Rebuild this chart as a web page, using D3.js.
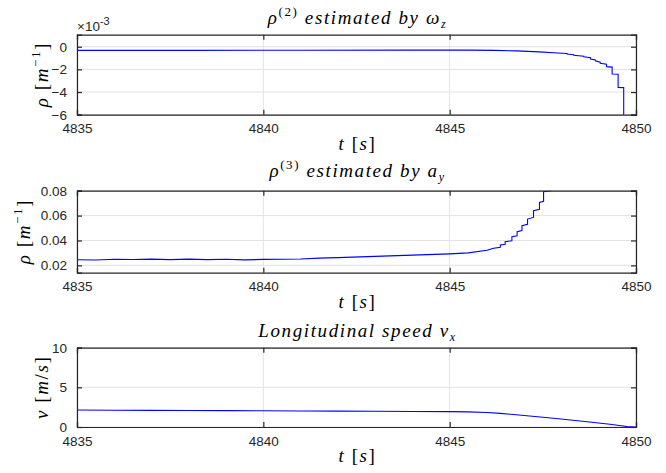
<!DOCTYPE html>
<html>
<head>
<meta charset="utf-8">
<script src="https://cdn.jsdelivr.net/npm/d3@7"></script>
<style>
  html, body { margin: 0; padding: 0; background: #fff; }
  svg { display: block; }
  .tick-label { font-family: "Liberation Sans", Arial, sans-serif; font-size: 13.5px; fill: #262626; }
  .tex { font-family: "Liberation Serif", "Times New Roman", serif; fill: #000; letter-spacing: 1.6px; }
</style>
</head>
<body>
<svg id="chart" width="666" height="473"></svg>
<script>
// ---------- DATA ----------
const xTicks = [4835, 4840, 4845, 4850];

// Panel 1: rho^(2) estimated by omega_z  (values in units of 1e-3 m^-1)
const rho2Time = [4835, 4838, 4841, 4844, 4845.5, 4846.2, 4846.8, 4847.4, 4847.9, 4848.15, 4848.15, 4848.33, 4848.33,
  4848.6, 4848.6, 4848.78, 4848.78, 4848.91, 4848.91, 4849.04, 4849.04, 4849.21, 4849.21, 4849.36, 4849.36,
  4849.52, 4849.52, 4849.67, 4849.67];
const rho2Value = [-0.32, -0.32, -0.31, -0.30, -0.30, -0.32, -0.37, -0.46, -0.55, -0.60, -0.64, -0.70, -0.76,
  -0.84, -0.88, -0.98, -1.08, -1.16, -1.24, -1.36, -1.47, -1.55, -1.76, -1.80, -2.41,
  -2.43, -3.59, -3.61, -8.0];
const rho2Ticks = [-6, -4, -2, 0];

// Panel 2: rho^(3) estimated by a_y  (m^-1)
const rho3Time = [4835, 4835.5, 4836, 4836.5, 4837, 4837.5, 4838, 4838.5, 4839, 4839.5, 4840, 4840.5, 4841, 4841.5,
  4842, 4843, 4844, 4845, 4845.5, 4846, 4846.18, 4846.36, 4846.36, 4846.49, 4846.49, 4846.67, 4846.67,
  4846.81, 4846.81, 4846.94, 4846.94, 4847.09, 4847.09, 4847.25, 4847.25, 4847.41, 4847.41, 4847.52, 4847.52,
  4847.70, 4847.70];
const rho3Value = [0.0245, 0.0243, 0.0249, 0.0247, 0.0250, 0.0246, 0.0250, 0.0246, 0.0249, 0.0244, 0.0248, 0.0249, 0.0251, 0.0258,
  0.0262, 0.0272, 0.0282, 0.0292, 0.0300, 0.0322, 0.0337, 0.0345, 0.0363, 0.0370, 0.0390, 0.0398, 0.0430,
  0.0438, 0.0470, 0.0480, 0.0518, 0.0530, 0.0572, 0.0585, 0.0639, 0.0650, 0.0706, 0.0715, 0.0791,
  0.0800, 0.0950];
const rho3Ticks = [0.02, 0.04, 0.06, 0.08];

// Panel 3: longitudinal speed v_x (m/s)
const speedTime = [4835, 4836, 4837, 4838, 4839, 4840, 4841, 4842, 4843, 4844, 4845, 4845.5, 4846, 4846.36,
  4847, 4847.79, 4848.69, 4849.3, 4849.76, 4850];
const speedValue = [2.14, 2.12, 2.10, 2.08, 2.06, 2.04, 2.02, 2.00, 1.98, 1.96, 1.94, 1.91, 1.82, 1.72,
  1.45, 1.10, 0.67, 0.35, 0.06, 0.0];
const speedTicks = [0, 5, 10];

// ---------- DRAWING ----------
const svg = d3.select("#chart");
const L = 77, R = 636;
const axisColor = "#262626", gridColor = "#e3e3e3", lineColor = "#0000ff";

function texText(g, parts, attrs) {
  const t = g.append("text").attr("class", "tex");
  Object.entries(attrs).forEach(([k, v]) => t.attr(k, v));
  parts.forEach(p => {
    const s = t.append("tspan").text(p.t);
    if (p.i) s.attr("font-style", "italic");
    if (p.dy) s.attr("dy", p.dy);
    if (p.fs) s.attr("font-size", p.fs);
    if (p.dx) s.attr("dx", p.dx);
  });
  return t;
}

function panel(cfg, idx) {
  const g = svg.append("g");
  const x = d3.scaleLinear().domain([4835, 4850]).range([L, R]);
  const y = d3.scaleLinear().domain(cfg.yDomain).range([cfg.bottom, cfg.top]);

  // grid
  g.selectAll(".gx").data(xTicks).enter().append("line")
    .attr("x1", d => x(d)).attr("x2", d => x(d)).attr("y1", cfg.top).attr("y2", cfg.bottom)
    .attr("stroke", gridColor).attr("stroke-width", 1);
  g.selectAll(".gy").data(cfg.yTicks).enter().append("line")
    .attr("x1", L).attr("x2", R).attr("y1", d => y(d)).attr("y2", d => y(d))
    .attr("stroke", gridColor).attr("stroke-width", 1);

  // clip + line
  const clipId = "clip" + idx;
  g.append("clipPath").attr("id", clipId).append("rect")
    .attr("x", L).attr("y", cfg.top).attr("width", R - L).attr("height", cfg.bottom - cfg.top);
  const pts = cfg.t.map((tt, i) => [tt, cfg.v[i]]);
  g.append("path").datum(pts)
    .attr("clip-path", `url(#${clipId})`)
    .attr("fill", "none").attr("stroke", lineColor).attr("stroke-width", 1.1)
    .attr("d", d3.line().x(d => x(d[0])).y(d => y(d[1])));

  // axes (inward ticks on all sides, box)
  const tl = 5;
  const bottomAx = d3.axisBottom(x).tickValues(xTicks).tickSize(-tl).tickFormat(d3.format("d")).tickPadding(tl + 4);
  const topAx = d3.axisTop(x).tickValues(xTicks).tickSize(-tl).tickFormat("");
  const leftAx = d3.axisLeft(y).tickValues(cfg.yTicks).tickSize(-tl).tickFormat(cfg.fmt).tickPadding(tl + 5);
  const rightAx = d3.axisRight(y).tickValues(cfg.yTicks).tickSize(-tl).tickFormat("");

  const axes = [
    [bottomAx, `translate(0,${cfg.bottom})`],
    [topAx, `translate(0,${cfg.top})`],
    [leftAx, `translate(${L},0)`],
    [rightAx, `translate(${R},0)`]
  ];
  axes.forEach(([ax, tr]) => {
    const a = g.append("g").attr("transform", tr).call(ax);
    a.select(".domain").attr("stroke", axisColor).attr("stroke-width", 1.2);
    a.selectAll(".tick line").attr("stroke", axisColor).attr("stroke-width", 1.2);
    a.selectAll(".tick text").attr("class", "tick-label").attr("font-family", null).attr("font-size", null).attr("fill", null);
  });

  // title
  texText(g, cfg.title, { x: (L + R) / 2 + 1, y: cfg.titleY, "text-anchor": "middle", "font-size": 19 });
  // x label
  texText(g, [{ t: "t", i: true }, { t: "  [" }, { t: "s", i: true }, { t: "]" }],
    { x: (L + R) / 2 + 1, y: cfg.bottom + 35, "text-anchor": "middle", "font-size": 19 });
  // y label
  texText(g, cfg.ylabel, {
    transform: `translate(${cfg.ylabelX},${(cfg.top + cfg.bottom) / 2}) rotate(-90)`,
    "text-anchor": "middle", "font-size": 19
  });
  return g;
}

const g1 = panel({
  top: 34.7, bottom: 114.7, yDomain: [-6, 1.06], yTicks: rho2Ticks, fmt: d3.format("d"),
  t: rho2Time, v: rho2Value, titleY: 23.5, ylabelX: 48,
  title: [{ t: "ρ", i: true }, { t: "(2)", fs: 13, dy: -8 }, { t: "  estimated by ", i: true, dy: 8 }, { t: "ω", i: true }, { t: "z", i: true, fs: 12, dy: 4 }],
  ylabel: [{ t: "ρ", i: true }, { t: "  [" }, { t: "m", i: true }, { t: "−1", fs: 13, dy: -8 }, { t: "]", dy: 8 }]
}, 1);

// exponent label
const ex = g1.append("text").attr("class", "tick-label").attr("x", 77).attr("y", 31);
ex.append("tspan").text("×10");
ex.append("tspan").text("-3").attr("font-size", 11).attr("dy", -6);

panel({
  top: 190.7, bottom: 272.7, yDomain: [0.0141, 0.08], yTicks: rho3Ticks, fmt: d3.format(".2f"),
  t: rho3Time, v: rho3Value, titleY: 177, ylabelX: 30,
  title: [{ t: "ρ", i: true }, { t: "(3)", fs: 13, dy: -8 }, { t: "  estimated by ", i: true, dy: 8 }, { t: "a", i: true }, { t: "y", i: true, fs: 12, dy: 4 }],
  ylabel: [{ t: "ρ", i: true }, { t: "  [" }, { t: "m", i: true }, { t: "−1", fs: 13, dy: -8 }, { t: "]", dy: 8 }]
}, 2);

panel({
  top: 347.7, bottom: 427, yDomain: [0, 10], yTicks: speedTicks, fmt: d3.format("d"),
  t: speedTime, v: speedValue, titleY: 337, ylabelX: 48,
  title: [{ t: "Longitudinal  speed  ", i: true }, { t: "v", i: true }, { t: "x", i: true, fs: 12, dy: 4 }],
  ylabel: [{ t: "v", i: true }, { t: "  [" }, { t: "m", i: true }, { t: "/" }, { t: "s", i: true }, { t: "]" }]
}, 3);
</script>
</body>
</html>
